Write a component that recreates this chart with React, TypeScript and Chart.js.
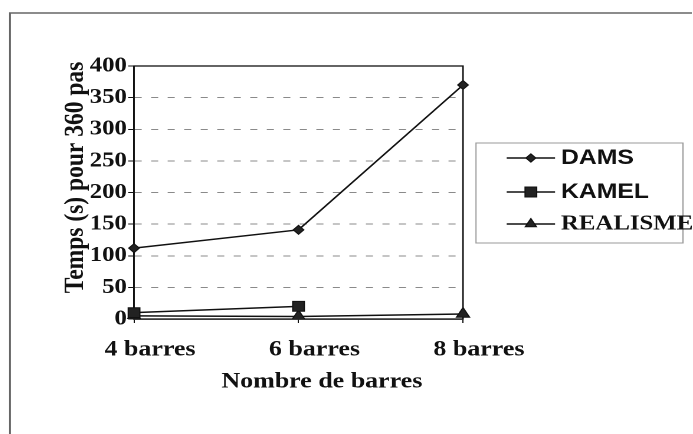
import { useEffect, useRef } from "react";
import { Chart, registerables } from "chart.js";
import { drawPoint } from "chart.js/helpers";

Chart.register(...registerables);

const categories = ["4 barres", "6 barres", "8 barres"];
const seriesNames = ["DAMS", "KAMEL", "REALISME"];
const damsValues = [112, 141, 370];
const kamelValues = [10, 20, null];
const realismeValues = [5, 4, 8];
const yMin = 0;
const yMax = 400;
const yStep = 50;
const xTitle = "Nombre de barres";
const yTitle = "Temps (s) pour 360 pas";

const SX = 1.18;
const W = 580;
const H = 426;
const SERIF = '"Liberation Serif", "Times New Roman", serif';
const SANS = '"Liberation Sans", Arial, sans-serif';
const INK = "#111";

const pointStyles = ["rectRot", "rect", "triangle"];
const pointRadii = [4.5, 7, 6.5];
const legendRadii = [4.2, 7, 5.5];
const legendFonts = [`bold 21px ${SANS}`, `bold 21px ${SANS}`, `bold 21px ${SERIF}`];

const decor = {
  id: "decor",
  beforeDatasetsDraw(chart: any) {
    const { ctx, chartArea: a } = chart;
    ctx.save();
    ctx.strokeStyle = INK;
    ctx.lineWidth = 1.3;
    ctx.strokeRect(a.left, a.top, a.right - a.left, a.bottom - a.top);
    ctx.restore();
  },
  afterDraw(chart: any) {
    const { ctx, chartArea: a } = chart;
    ctx.save();
    // outer frame
    ctx.strokeStyle = "#666";
    ctx.lineWidth = 1.5;
    ctx.beginPath();
    ctx.moveTo(1.7, H + 20);
    ctx.lineTo(1.7, 5);
    ctx.lineTo(W + 20, 5);
    ctx.stroke();

    // axis titles
    ctx.fillStyle = INK;
    ctx.textAlign = "center";
    ctx.textBaseline = "middle";
    ctx.font = `bold 22px ${SERIF}`;
    ctx.fillText(xTitle, a.left + 159.2, a.bottom + 62.6);
    ctx.save();
    ctx.translate(57.4, a.top + 111.5);
    ctx.rotate(-Math.PI / 2);
    ctx.font = `bold 23.5px ${SERIF}`;
    ctx.fillText(yTitle, 0, 0);
    ctx.restore();

    // legend
    const bx = a.right + 11;
    const by = 135;
    ctx.strokeStyle = "#999";
    ctx.lineWidth = 1;
    ctx.strokeRect(bx, by, 175.4, 100);
    const rows = [150, 184, 216];
    chart.data.datasets.forEach((ds: any, i: number) => {
      const y = rows[i];
      ctx.strokeStyle = INK;
      ctx.lineWidth = 1.5;
      ctx.beginPath();
      ctx.moveTo(bx + 26, y);
      ctx.lineTo(bx + 67, y);
      ctx.stroke();
      ctx.fillStyle = "#222";
      ctx.strokeStyle = INK;
      ctx.lineWidth = 1;
      drawPoint(ctx, { pointStyle: ds.pointStyle, radius: legendRadii[i], rotation: 0, borderWidth: 1 }, bx + 46.5, y);
      ctx.fillStyle = INK;
      ctx.textAlign = "left";
      ctx.textBaseline = "middle";
      ctx.font = legendFonts[i];
      ctx.fillText(ds.label, bx + 72, y);
    });
    ctx.restore();
  },
};

export default function App() {
  const ref = useRef<HTMLCanvasElement | null>(null);

  useEffect(() => {
    if (!ref.current) return;
    const mk = (label: string, data: (number | null)[], i: number) => ({
      label,
      data,
      borderColor: INK,
      borderWidth: 1.5,
      backgroundColor: "#222",
      pointStyle: pointStyles[i],
      pointRadius: pointRadii[i],
      pointBackgroundColor: "#222",
      pointBorderColor: INK,
      pointBorderWidth: 1,
      tension: 0,
      fill: false,
    });
    const chart = new Chart(ref.current, {
      type: "line",
      data: {
        labels: categories,
        datasets: [
          mk(seriesNames[0], damsValues, 0),
          mk(seriesNames[1], kamelValues, 1),
          mk(seriesNames[2], realismeValues, 2),
        ],
      },
      options: {
        animation: false,
        responsive: false,
        devicePixelRatio: 2,
        layout: { padding: { left: 0, top: 58, right: 194.4, bottom: 71.2 } },
        plugins: { legend: { display: false }, tooltip: { enabled: false }, title: { display: false } },
        scales: {
          x: {
            type: "category",
            offset: false,
            afterFit: (scale: any) => {
              scale.height = 43.8;
            },
            grid: { display: true, drawOnChartArea: false, drawTicks: true, tickLength: 4, tickColor: INK },
            border: { display: true, color: INK, width: 1.3 },
            ticks: {
              color: INK,
              font: { family: SERIF, size: 22, weight: "bold" },
              padding: 13.4,
              labelOffset: 13.5,
              maxRotation: 0,
              autoSkip: false,
            },
          },
          y: {
            min: yMin,
            max: yMax,
            afterFit: (scale: any) => {
              scale.width = 106.8;
            },
            grid: { color: "#8a8a8a", lineWidth: 1, tickLength: 5, tickColor: INK, tickBorderDash: [] },
            border: { display: true, color: INK, width: 1.3, dash: [6, 8] },
            ticks: {
              stepSize: yStep,
              color: INK,
              font: { family: SERIF, size: 21, weight: "bold" },
              padding: 1,
            },
          },
        },
      },
      plugins: [decor],
    });
    return () => chart.destroy();
  }, []);

  return (
    <div style={{ position: "fixed", left: 0, top: 0, right: 0, bottom: 0, overflow: "hidden" }}>
      <div
        style={{
          position: "absolute",
          left: 8,
          top: 8,
          width: W,
          height: H,
          transform: `scaleX(${SX})`,
          transformOrigin: "0 0",
        }}
      >
        <canvas ref={ref} width={W} height={H} style={{ display: "block" }} />
      </div>
    </div>
  );
}
